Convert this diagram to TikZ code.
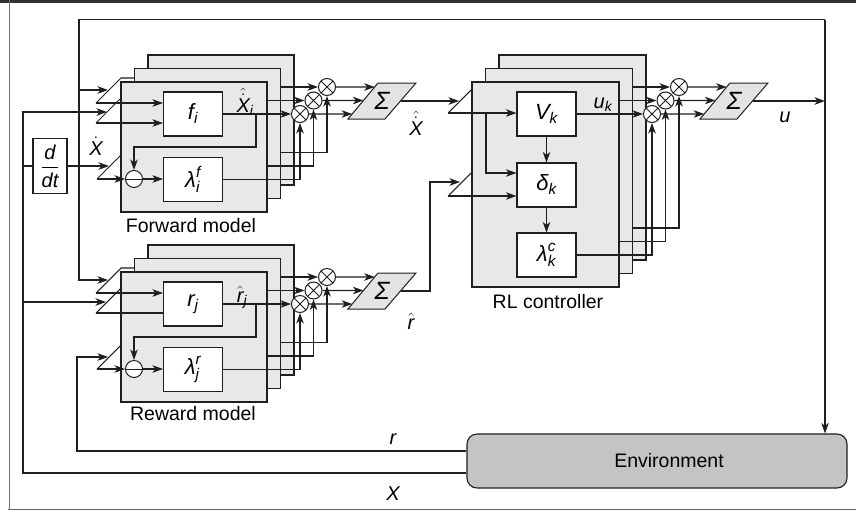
\documentclass[tikz,border=0pt]{standalone}
\usepackage{amsmath}
\usepackage{fontspec}
\setmainfont{Liberation Sans}
\usetikzlibrary{arrows.meta,calc}
\newcommand{\mi}[1]{\textit{#1}}
\begin{document}
\begin{tikzpicture}[x=1pt,y=-1pt,
  ln/.style={line width=1.05pt, draw=black!88},
  arr/.style={ln, -{Stealth[length=10.5pt,width=7.5pt,inset=3pt]}},
  panel/.style={draw=black!88, line width=1.1pt, fill=black!9, inner sep=0pt, minimum width=146pt},
  blk/.style={draw=black!88, fill=white, line width=1.1pt, minimum width=59pt, minimum height=44pt, inner sep=0pt, font=\fontsize{22}{24}\selectfont},
  mult/.style={circle, draw=black!88, line width=1pt, fill=white, minimum size=17pt, inner sep=0pt,
    path picture={\draw[line width=0.9pt] (path picture bounding box.north west)--(path picture bounding box.south east)
      (path picture bounding box.north east)--(path picture bounding box.south west);}},
  subt/.style={circle, draw=black!88, line width=1pt, fill=white, minimum size=17pt, inner sep=0pt,
    path picture={\draw[line width=0.9pt] (path picture bounding box.west)--(path picture bounding box.east);}},
  sig/.style={draw=black!88, line width=1pt, fill=black!11},
  sigtxt/.style={font=\fontsize{25}{25}\selectfont\itshape, inner sep=0pt},
  lbl/.style={font=\fontsize{19.5}{22}\selectfont, inner sep=0pt},
  mlbl/.style={font=\fontsize{20}{22}\selectfont, inner sep=0pt, anchor=base},
  env/.style={draw=black!88, line width=1.1pt, fill=black!23, rounded corners=10pt, minimum width=380pt, minimum height=54pt, font=\fontsize{19.5}{22}\selectfont}
]
\useasboundingbox (0,0) rectangle (856,512);
% frame
\draw[line width=3pt, draw=black!80] (0,1.5) -- (856,1.5);
\draw[line width=0.8pt, draw=black!55] (9.5,0) -- (9.5,509.5);
\draw[line width=1.4pt, draw=black!60] (8,509.5) -- (856,509.5);

% ================= Forward model =================
\node[panel, minimum height=130pt] (F3) at (221,120) {};
\node[panel, minimum height=130pt] (F2) at (207.5,133.5) {};
\node[panel, minimum height=130pt] (F1) at (194,147) {};
\node[blk] (f) at (193,114) {$\mi{f}_{\mi{i}}$};
\node[blk] (lf) at (193,179.5) {$\mi{λ}^{\mi{f}}_{\mi{i}}$};
\node[subt] (Fs) at (134,179) {};
\node[mult] (Fm1) at (300,114) {};
\node[mult] (Fm2) at (313.5,100.5) {};
\node[mult] (Fm3) at (327,87) {};
\coordinate (FSbl) at (348,119);
\coordinate (FSbr) at (385,119);
\coordinate (FStr) at (416,83);
\coordinate (FStl) at (378,83);
\draw[sig] (FSbl) -- (FSbr) -- (FStr) -- (FStl) -- cycle;
\node[sigtxt] (FS) at (382,101) {Σ};
\node[lbl] (Flab) at (191,226) {Forward model};
\node[draw=black!88, line width=1.1pt, fill=white, minimum width=34pt, minimum height=55pt, inner sep=0pt, font=\fontsize{20}{24}\selectfont] (dd) at (50,166) {$\dfrac{\mi{d}}{\mi{dt}}$};

% ================= Reward model =================
\node[panel, minimum height=130pt] (W3) at (221,310) {};
\node[panel, minimum height=130pt] (W2) at (207.5,323.5) {};
\node[panel, minimum height=130pt] (W1) at (194,337) {};
\node[blk] (rj) at (193,304) {$\mi{r}_{\mi{j}}$};
\node[blk] (lr) at (193,369.5) {$\mi{λ}^{\mi{r}}_{\mi{j}}$};
\node[subt] (Ws) at (134,369) {};
\node[mult] (Wm1) at (300,304) {};
\node[mult] (Wm2) at (313.5,290.5) {};
\node[mult] (Wm3) at (327,277) {};
\coordinate (WSbl) at (348,309);
\coordinate (WSbr) at (385,309);
\coordinate (WStr) at (416,273);
\coordinate (WStl) at (378,273);
\draw[sig] (WSbl) -- (WSbr) -- (WStr) -- (WStl) -- cycle;
\node[sigtxt] (WS) at (382,291) {Σ};
\node[lbl] (Wlab) at (193,414) {Reward model};

% ================= RL controller =================
\node[panel, minimum height=205pt, minimum width=147pt] (R3) at (572.5,157.5) {};
\node[panel, minimum height=205pt, minimum width=147pt] (R2) at (559,171) {};
\node[panel, minimum height=205pt, minimum width=147pt] (R1) at (545.5,184.5) {};
\node[blk] (V) at (546.5,114) {$\mi{V}_{\mi{k}}$};
\node[blk] (dl) at (546.5,185) {$\mi{δ}_{\mi{k}}$};
\node[blk] (lc) at (546.5,255) {$\mi{λ}^{\mi{c}}_{\mi{k}}$};
\node[mult] (Rm1) at (652,114) {};
\node[mult] (Rm2) at (665.5,100.5) {};
\node[mult] (Rm3) at (679,87) {};
\coordinate (RSbl) at (700,119);
\coordinate (RSbr) at (737,119);
\coordinate (RStr) at (768,83);
\coordinate (RStl) at (730,83);
\draw[sig] (RSbl) -- (RSbr) -- (RStr) -- (RStl) -- cycle;
\node[sigtxt] (RS) at (734,101) {Σ};
\node[lbl] (Rlab) at (548,302) {RL controller};

% ================= Environment =================
\node[env] (Env) at (657,461) {\hspace*{24pt}Environment};

% ================= Forward model wiring =================
\draw[ln] (96,103) -- (121,78) -- (F2.west |- 0,78);
\draw[ln] (96,123) -- (121,98);
\draw[ln] (97,179) -- (121,155);
\draw[arr] (96,103) -- (f.west |- 0,103);
\draw[arr] (96,123) -- (f.west |- 0,123);
\draw[arr] (97,179) -- (Fs.west);
\draw[arr] (Fs.east) -- (lf.west |- Fs.east);
\draw[arr] (f.east) -- (Fm1.west);
\draw[arr] (256,114) -- (256,147) -| (Fs.north);
\draw[arr] (F1.east |- Fm2.west) -- (Fm2.west);
\draw[arr] (F2.east |- Fm3.west) -- (Fm3.west);
\draw[arr] (lf.east) -| (Fm1.south);
\draw[arr] (F1.east |- 0,166) -| (Fm2.south);
\draw[arr] (F2.east |- 0,152.5) -| (Fm3.south);
\draw[arr] (Fm1.east) -- ($(FSbl)!0.139!(FStl)$);
\draw[arr] (Fm2.east) -- ($(FSbl)!0.514!(FStl)$);
\draw[arr] (Fm3.east) -- ($(FSbl)!0.889!(FStl)$);
\node[mlbl] (lXi) at (245,112) {$\hat{\dot{\mi{X}}}_{\mi{i}}$};
\node[mlbl] (lXd) at (96,155) {$\dot{\mi{X}}$};

% ================= Reward model wiring =================
\draw[ln] (96,293) -- (121,268) -- (W2.west |- 0,268);
\draw[ln] (96,313) -- (121,288);
\draw[ln] (97,369) -- (121,345);
\draw[arr] (96,293) -- (rj.west |- 0,293);
\draw[ln] (96,313) -- (rj.west |- 0,313);
\draw[arr] (97,369) -- (Ws.west);
\draw[arr] (Ws.east) -- (lr.west |- Ws.east);
\draw[arr] (rj.east) -- (Wm1.west);
\draw[arr] (256,304) -- (256,337) -| (Ws.north);
\draw[arr] (W1.east |- Wm2.west) -- (Wm2.west);
\draw[arr] (W2.east |- Wm3.west) -- (Wm3.west);
\draw[arr] (lr.east) -| (Wm1.south);
\draw[arr] (W1.east |- 0,356) -| (Wm2.south);
\draw[arr] (W2.east |- 0,342.5) -| (Wm3.south);
\draw[arr] (Wm1.east) -- ($(WSbl)!0.139!(WStl)$);
\draw[arr] (Wm2.east) -- ($(WSbl)!0.514!(WStl)$);
\draw[arr] (Wm3.east) -- ($(WSbl)!0.889!(WStl)$);
\node[mlbl] (lrj) at (242,302) {$\hat{\mi{r}}_{\mi{j}}$};

% ================= RL wiring =================
\draw[ln] (448,113) -- (472,89);
\draw[ln] (448,196) -- (472,172);
\draw[arr] ($(FSbr)!0.5!(FStr)$) -- (459,101);
\draw[arr] ($(WSbr)!0.5!(WStr)$) -- (430,291) -- (430,182) -- (460,182);
\draw[arr] (448,113) -- (V.west |- 0,113);
\draw[arr] (486,113) -- (486,173) -- (dl.west |- 0,173);
\draw[arr] (448,196) -- (dl.west |- 0,196);
\draw[arr] (V.south) -- (dl.north);
\draw[arr] (dl.south) -- (lc.north);
\draw[arr] (V.east) -- (Rm1.west);
\draw[arr] (R1.east |- Rm2.west) -- (Rm2.west);
\draw[arr] (R2.east |- Rm3.west) -- (Rm3.west);
\draw[arr] (lc.east) -| (Rm1.south);
\draw[arr] (R1.east |- 0,241.5) -| (Rm2.south);
\draw[arr] (R2.east |- 0,228) -| (Rm3.south);
\draw[arr] (Rm1.east) -- ($(RSbl)!0.139!(RStl)$);
\draw[arr] (Rm2.east) -- ($(RSbl)!0.514!(RStl)$);
\draw[arr] (Rm3.east) -- ($(RSbl)!0.889!(RStl)$);
\node[mlbl] (lXh) at (416,135) {$\hat{\dot{\mi{X}}}$};
\node[mlbl] (lrh) at (411,329) {$\hat{\mi{r}}$};
\node[mlbl] (luk) at (603,108) {$\mi{u}_{\mi{k}}$};

% ================= outer loops =================
\draw[arr] ($(RSbr)!0.5!(RStr)$) -- (825,101);
\node[mlbl] (lu) at (785,122) {$\mi{u}$};
\draw[arr] (825,19.5) -- (Env.north -| 825,0);
\draw[arr] (825,19.5) -| (79,280) -- (108,280);
\draw[arr] (79,90) -- (108,90);
\draw[arr] (Env.west |- 0,451) -| (77,357) -- (108,357);
\node[mlbl] (lr0) at (393,444) {$\mi{r}$};
\draw[arr] (Env.west |- 0,473) -| (23,112) -- (107,112);
\node[mlbl] (lX0) at (393,500) {$\mi{X}$};
\draw[ln] (23,166) -- (dd.west);
\draw[arr] (dd.east) -- (109,166);
\draw[arr] (23,302) -- (106,302);
\end{tikzpicture}
\end{document}
